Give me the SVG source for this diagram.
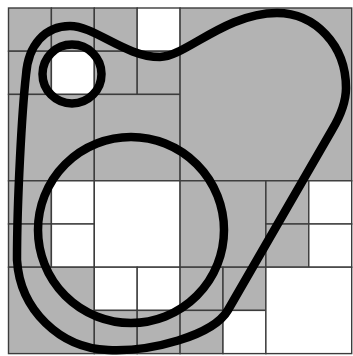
<svg xmlns="http://www.w3.org/2000/svg" width="353" height="356" viewBox="0 0 353 356">
<style>
.g{fill:#b3b3b3;stroke:#3c3c3c;stroke-width:1.4}
.w{fill:#ffffff;stroke:#3c3c3c;stroke-width:1.4}
.curve{fill:none;stroke:#000;stroke-width:8.5}
</style>
<rect width="353" height="356" fill="#fff"/>
<g id="cells">
<rect class="g" x="8.5" y="8" width="42.9" height="43.2"/>
<rect class="g" x="51.4" y="8" width="42.9" height="43.2"/>
<rect class="g" x="8.5" y="51.2" width="42.9" height="43.2"/>
<rect class="w" x="51.4" y="51.2" width="42.9" height="43.2"/>
<rect class="g" x="94.3" y="8" width="42.9" height="43.2"/>
<rect class="w" x="137.2" y="8" width="42.9" height="43.2"/>
<rect class="g" x="94.3" y="51.2" width="42.9" height="43.2"/>
<rect class="g" x="137.2" y="51.2" width="42.9" height="43.2"/>
<rect class="g" x="8.5" y="94.4" width="85.8" height="86.4"/>
<rect class="g" x="94.3" y="94.4" width="85.8" height="86.4"/>
<rect class="g" x="180.1" y="8" width="171.6" height="172.8"/>
<rect class="g" x="8.5" y="180.8" width="42.9" height="43.2"/>
<rect class="w" x="51.4" y="180.8" width="42.9" height="43.2"/>
<rect class="g" x="8.5" y="224" width="42.9" height="43.2"/>
<rect class="w" x="51.4" y="224" width="42.9" height="43.2"/>
<rect class="w" x="94.3" y="180.8" width="85.8" height="86.4"/>
<rect class="g" x="8.5" y="267.2" width="85.8" height="86.4"/>
<rect class="w" x="94.3" y="267.2" width="42.9" height="43.2"/>
<rect class="w" x="137.2" y="267.2" width="42.9" height="43.2"/>
<rect class="g" x="94.3" y="310.4" width="42.9" height="43.2"/>
<rect class="g" x="137.2" y="310.4" width="42.9" height="43.2"/>
<rect class="g" x="180.1" y="180.8" width="85.8" height="86.4"/>
<rect class="g" x="265.9" y="180.8" width="42.9" height="43.2"/>
<rect class="w" x="308.8" y="180.8" width="42.9" height="43.2"/>
<rect class="g" x="265.9" y="224" width="42.9" height="43.2"/>
<rect class="w" x="308.8" y="224" width="42.9" height="43.2"/>
<rect class="g" x="180.1" y="267.2" width="42.9" height="43.2"/>
<rect class="g" x="223" y="267.2" width="42.9" height="43.2"/>
<rect class="g" x="180.1" y="310.4" width="42.9" height="43.2"/>
<rect class="w" x="223" y="310.4" width="42.9" height="43.2"/>
<rect class="w" x="265.9" y="267.2" width="85.8" height="86.4"/>
</g>
<g id="curves">
<path class="curve" d="M17,260 C17,200 22,110 26,75 C28,45 45,26 70,26 C95,26 125,57 160,57 C185,57 225,13 277,13 C315,13 346,45 346,88 C346,105 338,120 332,130 L228,310 C213,336 150,352 108,350 C60,348 20,310 17,260 Z"/>
<circle class="curve" cx="72" cy="74" r="29.5"/>
<circle class="curve" cx="131" cy="230" r="93"/>
</g>
</svg>
